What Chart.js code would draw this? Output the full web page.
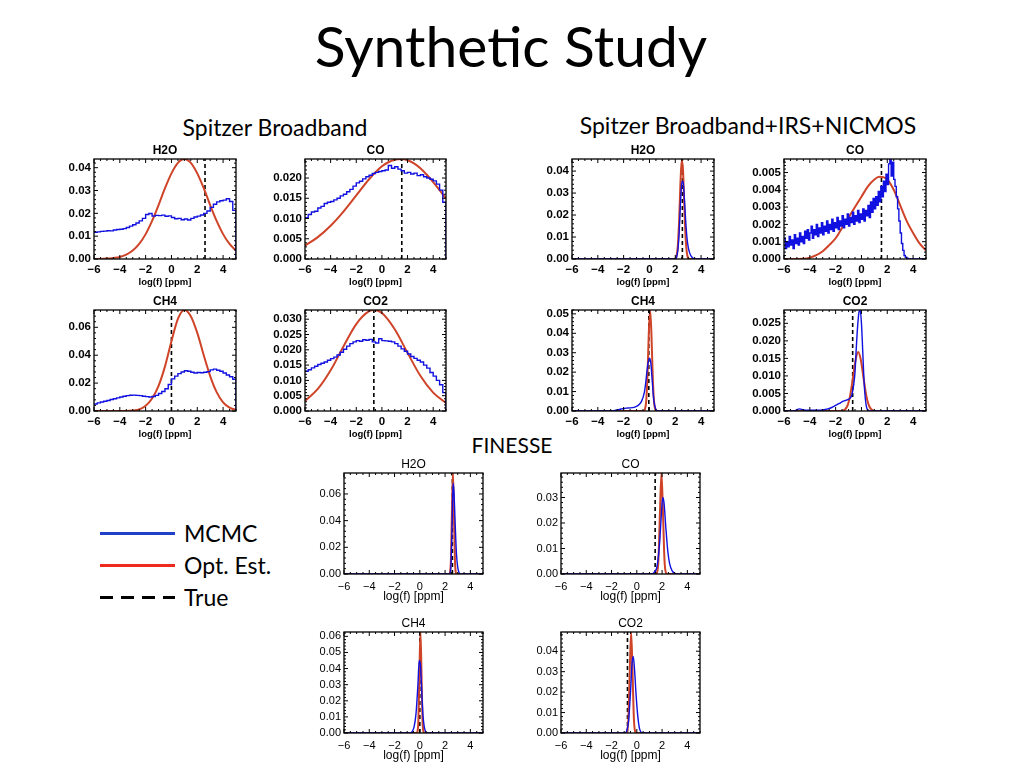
<!DOCTYPE html>
<html><head><meta charset="utf-8">
<script src="https://cdn.jsdelivr.net/npm/chart.js@4.4.0/dist/chart.umd.min.js"></script>
<style>
html,body{margin:0;padding:0;background:#fff;}
#page{position:relative;width:1024px;height:768px;overflow:hidden;font-family:Lato,'Open Sans',sans-serif;color:#000;}
.t{position:absolute;white-space:nowrap;line-height:1;}
.c{transform:translateX(-50%);}
canvas{position:absolute;}
.lg{position:absolute;left:100px;width:75px;height:3px;}
</style></head><body><div id="page">
<div class="t c" style="left:511px;top:17px;font-size:57px;">Synthetic Study</div>
<div class="t c" style="left:275px;top:116px;font-size:23px;">Spitzer Broadband</div>
<div class="t c" style="left:748px;top:114px;font-size:23px;">Spitzer Broadband+IRS+NICMOS</div>
<div class="t c" style="left:512px;top:434px;font-size:21px;">FINESSE</div>
<div class="lg" style="top:532px;background:#2140c8;"></div>
<div class="lg" style="top:564px;background:#ee2a1e;"></div>
<div class="lg" style="top:596px;background:repeating-linear-gradient(to right,#000 0 13px,transparent 13px 21px);"></div>
<div class="t" style="left:184px;top:522px;font-size:23px;">MCMC</div>
<div class="t" style="left:184px;top:554px;font-size:23px;">Opt. Est.</div>
<div class="t" style="left:184px;top:586px;font-size:23px;">True</div>
</div>
<script>
// ---------------- data ----------------
const species = ['H2O', 'CO', 'CH4', 'CO2'];
const xTicks = [-6, -4, -2, 0, 2, 4];
const xLabel = 'log(f) [ppm]';

// histogram bin edges (left edges, last = right end)
const edgesSB = [-6,-5.75,-5.5,-5.25,-5,-4.75,-4.5,-4.25,-4,-3.75,-3.5,-3.25,-3,-2.75,-2.5,-2.25,-2,-1.75,-1.5,-1.25,-1,-0.75,-0.5,-0.25,0,0.25,0.5,0.75,1,1.25,1.5,1.75,2,2.25,2.5,2.75,3,3.25,3.5,3.75,4,4.25,4.5,4.75,5];
const edgesFine = [-6,-5.9,-5.8,-5.7,-5.6,-5.5,-5.4,-5.3,-5.2,-5.1,-5,-4.9,-4.8,-4.7,-4.6,-4.5,-4.4,-4.3,-4.2,-4.1,-4,-3.9,-3.8,-3.7,-3.6,-3.5,-3.4,-3.3,-3.2,-3.1,-3,-2.9,-2.8,-2.7,-2.6,-2.5,-2.4,-2.3,-2.2,-2.1,-2,-1.9,-1.8,-1.7,-1.6,-1.5,-1.4,-1.3,-1.2,-1.1,-1,-0.9,-0.8,-0.7,-0.6,-0.5,-0.4,-0.3,-0.2,-0.1,0,0.1,0.2,0.3,0.4,0.5,0.6,0.7,0.8,0.9,1,1.1,1.2,1.3,1.4,1.5,1.6,1.7,1.8,1.9,2,2.1,2.2,2.3,2.4,2.5,2.6,2.7,2.8,2.9,3,3.1,3.2,3.3,3.4,3.5,3.6,3.7,3.8,3.9,4,4.1,4.2,4.3,4.4,4.5,4.6,4.7,4.8,4.9,5];

// Spitzer Broadband: MCMC histograms (on edgesSB)
const sbH2O_mcmc = [0.0117,0.0119,0.0121,0.0122,0.0124,0.0123,0.0127,0.0129,0.0130,0.0133,0.0138,0.0144,0.0150,0.0158,0.0167,0.0178,0.0195,0.0199,0.0188,0.0191,0.0190,0.0192,0.0187,0.0189,0.0182,0.0176,0.0178,0.0172,0.0175,0.0171,0.0178,0.0184,0.0188,0.0193,0.0200,0.0210,0.0226,0.0240,0.0250,0.0255,0.0258,0.0264,0.0252,0.0213,0];
const sbCO_mcmc  = [0.0102,0.0110,0.0116,0.0118,0.0126,0.0130,0.0137,0.0140,0.0142,0.0146,0.0150,0.0156,0.0160,0.0166,0.0172,0.0180,0.0188,0.0192,0.0198,0.0203,0.0207,0.0211,0.0214,0.0216,0.0218,0.0220,0.0231,0.0224,0.0228,0.0222,0.0218,0.0212,0.0214,0.0210,0.0212,0.0206,0.0208,0.0203,0.0200,0.0197,0.0193,0.0185,0.0170,0.0140,0];
const sbCH4_mcmc = [0.0050,0.0058,0.0065,0.0070,0.0075,0.0082,0.0088,0.0094,0.0100,0.0106,0.0110,0.0113,0.0114,0.0112,0.0110,0.0106,0.0103,0.0100,0.0104,0.0112,0.0125,0.0140,0.0160,0.0190,0.0230,0.0250,0.0268,0.0280,0.0288,0.0285,0.0278,0.0272,0.0276,0.0274,0.0278,0.0282,0.0295,0.0300,0.0292,0.0285,0.0272,0.0258,0.0245,0.0228,0];
const sbCO2_mcmc = [0.0130,0.0135,0.0141,0.0146,0.0152,0.0156,0.0160,0.0166,0.0171,0.0176,0.0183,0.0192,0.0202,0.0212,0.0220,0.0226,0.0230,0.0228,0.0233,0.0231,0.0234,0.0226,0.0222,0.0236,0.0230,0.0229,0.0228,0.0226,0.0220,0.0212,0.0203,0.0195,0.0186,0.0178,0.0172,0.0166,0.0160,0.0150,0.0140,0.0126,0.0114,0.0100,0.0086,0.0060,0];

// Spitzer Broadband: optimal estimation curves [x, y]
const sbH2O_opt = [[-6,0],[-5,0.0002],[-4,0.0009],[-3.5,0.0019],[-3,0.0037],[-2.5,0.0066],[-2,0.0109],[-1.5,0.0167],[-1,0.0236],[-0.5,0.0310],[0,0.0375],[0.5,0.0421],[1,0.0438],[1.5,0.0421],[2,0.0375],[2.5,0.0310],[3,0.0236],[3.5,0.0167],[4,0.0109],[4.5,0.0066],[5,0.0037]];
const sbCO_opt  = [[-6,0.0033],[-5,0.0054],[-4,0.0082],[-3,0.0117],[-2,0.0157],[-1,0.0197],[0,0.0229],[0.5,0.0239],[1,0.0245],[1.5,0.0247],[2,0.0244],[2.5,0.0236],[3,0.0224],[3.5,0.0208],[4,0.0190],[4.5,0.0170],[5,0.0149]];
const sbCH4_opt = [[-6,0],[-3.5,0],[-3,0.0003],[-2.5,0.0012],[-2,0.0038],[-1.5,0.0090],[-1,0.0180],[-0.5,0.0320],[0,0.0500],[0.5,0.0660],[1,0.0724],[1.5,0.0680],[2,0.0560],[2.5,0.0400],[3,0.0250],[3.5,0.0135],[4,0.0062],[4.5,0.0024],[5,0.0008]];
const sbCO2_opt = [[-6,0.0033],[-5,0.0072],[-4,0.0133],[-3,0.0211],[-2,0.0284],[-1,0.0326],[-0.6,0.0330],[0,0.0320],[1,0.0267],[2,0.0190],[3,0.0115],[4,0.0060],[5,0.0026]];

// Spitzer Broadband+IRS+NICMOS
const irsH2O_mcmc = [[-6,0],[2.0,0],[2.1,0.0008],[2.2,0.0040],[2.3,0.0120],[2.4,0.0250],[2.5,0.0345],[2.6,0.0355],[2.7,0.0280],[2.8,0.0180],[2.9,0.0100],[3.0,0.0055],[3.1,0.0030],[3.2,0.0016],[3.3,0.0008],[3.4,0.0003],[3.5,0.0001],[3.6,0],[5,0]];
const irsCO_mcmc = [0.0012,0.0006,0.0010,0.0007,0.0013,0.0008,0.0011,0.0006,0.0014,0.0009,0.0012,0.0008,0.0015,0.0010,0.0013,0.0009,0.0016,0.0012,0.0017,0.0011,0.0015,0.0019,0.0012,0.0017,0.0014,0.0020,0.0013,0.0018,0.0015,0.0021,0.0014,0.0019,0.0016,0.0022,0.0015,0.0020,0.0017,0.0023,0.0016,0.0021,0.0018,0.0024,0.0017,0.0022,0.0019,0.0025,0.0018,0.0023,0.0020,0.0026,0.0019,0.0024,0.0021,0.0027,0.0020,0.0025,0.0022,0.0028,0.0021,0.0026,0.0023,0.0029,0.0022,0.0028,0.0025,0.0031,0.0024,0.0033,0.0027,0.0035,0.0029,0.0036,0.0031,0.0039,0.0033,0.0042,0.0036,0.0045,0.0039,0.0049,0.0043,0.0055,0.0058,0.0048,0.0056,0.0046,0.0042,0.0036,0.0029,0.0022,0.0015,0.0009,0.0005,0.0002,0.0001,0.00004,0,0,0,0,0,0,0,0,0,0,0,0,0,0,0];
const irsCH4_mcmc = [[-6,0],[-3.0,0],[-2.6,0.0004],[-2.2,0.0010],[-2.0,0.0013],[-1.8,0.0015],[-1.5,0.0016],[-1.2,0.0019],[-1.0,0.0024],[-0.8,0.0033],[-0.6,0.0052],[-0.4,0.0095],[-0.3,0.0140],[-0.2,0.0200],[-0.1,0.0250],[0.0,0.0272],[0.1,0.0250],[0.2,0.0170],[0.3,0.0080],[0.4,0.0030],[0.5,0.0008],[0.6,0.0001],[0.7,0],[5,0]];
const irsCO2_mcmc = [[-6,0],[-5.2,0],[-5.0,0.0004],[-4.8,0.0006],[-4.5,0.0003],[-4.0,0.0002],[-3.5,0.0002],[-3.0,0.0003],[-2.6,0.0006],[-2.3,0.0010],[-2.0,0.0016],[-1.7,0.0022],[-1.4,0.0028],[-1.1,0.0032],[-0.9,0.0036],[-0.75,0.0045],[-0.6,0.0075],[-0.5,0.0110],[-0.4,0.0180],[-0.3,0.0240],[-0.2,0.0280],[-0.1,0.0288],[0.0,0.0250],[0.1,0.0170],[0.2,0.0085],[0.3,0.0035],[0.4,0.0010],[0.5,0.0002],[0.6,0],[5,0]];
const irsH2O_opt = [[-6,0],[1.95,0],[2.0,0.0002],[2.1,0.0014],[2.2,0.0062],[2.3,0.0177],[2.4,0.0344],[2.5,0.0451],[2.6,0.0402],[2.7,0.0242],[2.8,0.0098],[2.9,0.0027],[3.0,0.0005],[3.1,0],[5,0]];
const irsCO_opt  = [[-6,0],[-4.5,0.00002],[-4,0.00008],[-3.5,0.00022],[-3,0.00045],[-2.5,0.0008],[-2,0.0012],[-1.5,0.0018],[-1,0.0024],[-0.5,0.0030],[0,0.0036],[0.5,0.0042],[1,0.0046],[1.4,0.00475],[2,0.0046],[2.5,0.0040],[3,0.0031],[3.5,0.0022],[4,0.0015],[4.5,0.0009],[5,0.0005]];
const irsCH4_opt = [[-6,0],[-0.45,0],[-0.35,0.0009],[-0.25,0.0052],[-0.15,0.0187],[-0.05,0.0403],[0.05,0.0520],[0.15,0.0403],[0.25,0.0187],[0.35,0.0052],[0.45,0.0009],[0.55,0],[5,0]];
const irsCO2_opt = [[-6,0],[-1.65,0],[-1.45,0.0001],[-1.25,0.0005],[-1.05,0.0018],[-0.85,0.0049],[-0.65,0.0097],[-0.45,0.0146],[-0.25,0.0168],[-0.05,0.0146],[0.15,0.0097],[0.35,0.0049],[0.55,0.0018],[0.75,0.0005],[0.95,0.0001],[1.15,0],[5,0]];

// FINESSE
const finH2O_mcmc = [[-6,0],[2.35,0],[2.45,0.004],[2.55,0.035],[2.63,0.068],[2.7,0.062],[2.8,0.037],[2.9,0.015],[3.0,0.005],[3.1,0.0012],[3.2,0],[5,0]];
const finCO_mcmc  = [[-6,0],[1.2,0],[1.4,0.0008],[1.6,0.0030],[1.8,0.0120],[1.95,0.0240],[2.05,0.0300],[2.15,0.0280],[2.3,0.0180],[2.45,0.0090],[2.6,0.0040],[2.8,0.0012],[3.0,0.0002],[3.1,0],[5,0]];
const finCH4_mcmc = [[-6,0],[-0.75,0],[-0.6,0.001],[-0.45,0.004],[-0.3,0.012],[-0.15,0.030],[-0.05,0.045],[0.05,0.042],[0.15,0.026],[0.25,0.011],[0.35,0.004],[0.45,0.001],[0.55,0],[5,0]];
const finCO2_mcmc = [[-6,0],[-0.95,0],[-0.8,0.001],[-0.65,0.006],[-0.5,0.020],[-0.38,0.034],[-0.28,0.0375],[-0.18,0.031],[-0.05,0.018],[0.08,0.008],[0.2,0.0025],[0.32,0.0005],[0.42,0],[5,0]];
const finH2O_opt = [[-6,0],[2.3,0],[2.38,0.0008],[2.46,0.0102],[2.54,0.0460],[2.62,0.0757],[2.70,0.0460],[2.78,0.0102],[2.86,0.0008],[2.94,0],[5,0]];
const finCO_opt  = [[-6,0],[1.5,0],[1.59,0.0004],[1.71,0.0054],[1.83,0.0240],[1.95,0.0396],[2.07,0.0240],[2.19,0.0054],[2.31,0.0004],[2.4,0],[5,0]];
const finCH4_opt = [[-6,0],[-0.27,0],[-0.19,0.0007],[-0.11,0.0085],[-0.03,0.0380],[0.05,0.0627],[0.13,0.0380],[0.21,0.0085],[0.29,0.0007],[0.37,0],[5,0]];
const finCO2_opt = [[-6,0],[-0.89,0],[-0.78,0.0005],[-0.67,0.0067],[-0.56,0.0300],[-0.45,0.0494],[-0.34,0.0300],[-0.23,0.0067],[-0.12,0.0005],[-0.01,0],[5,0]];

// true values
const sbTrue  = [2.6, 1.55, 0, -0.63];
const irsTrue = [2.55, 1.55, -0.05, -0.68];
const finTrue = [2.58, 1.45, 0, -0.74];

// y axis ranges and ticks
const sbYMax  = [0.0438, 0.0247, 0.0724, 0.033];
const irsYMax = [0.0455, 0.00578, 0.052, 0.0288];
const finYMax = [0.0757, 0.0396, 0.0627, 0.0494];
const sbYTicks  = [[0,0.01,0.02,0.03,0.04],[0,0.005,0.01,0.015,0.02],[0,0.02,0.04,0.06],[0,0.005,0.01,0.015,0.02,0.025,0.03]];
const irsYTicks = [[0,0.01,0.02,0.03,0.04],[0,0.001,0.002,0.003,0.004,0.005],[0,0.01,0.02,0.03,0.04,0.05],[0,0.005,0.01,0.015,0.02,0.025]];
const finYTicks = [[0,0.02,0.04,0.06],[0,0.01,0.02,0.03],[0,0.01,0.02,0.03,0.04,0.05,0.06],[0,0.01,0.02,0.03,0.04]];
const sbDec = [2,3,2,3], irsDec = [2,3,2,3], finDec = [2,2,2,2];

// ---------------- layout (plot boxes: left, top, width, height) ----------------
const sbBoxes  = [[94,159,142,100],[305,159,141,100],[94,310,142,101],[305,310,141,101]];
const irsBoxes = [[572,159,142,100],[784,159,142,100],[572,310,142,101],[784,310,142,101]];
const finBoxes = [[344,473,139,101],[561,473,139,101],[344,632,139,101],[561,632,139,101]];

const BLUE = '#1010e0', RED = '#cf4428';
Chart.defaults.font.family = "'Liberation Sans', Arial, sans-serif";
Chart.defaults.color = '#000';

const boxPlugin = {
  id: 'idlbox',
  afterDatasetsDraw(chart) {
    const {ctx, chartArea: a, scales: {x, y}} = chart;
    ctx.save();
    ctx.strokeStyle = '#000';
    ctx.lineWidth = 1.3;
    ctx.strokeRect(a.left, a.top, a.right - a.left, a.bottom - a.top);
    ctx.lineWidth = 1;
    const xt = x.ticks.map(t => t.value);
    const yt = y.ticks.map(t => t.value);
    const xs = xt[1] - xt[0], ys = yt[1] - yt[0];
    for (let v = x.min; v <= x.max + 1e-9; v += xs / 4) {
      const major = xt.some(t => Math.abs(t - v) < 1e-6);
      const L = major ? 4 : 2, px = x.getPixelForValue(v);
      ctx.beginPath();
      ctx.moveTo(px, a.bottom); ctx.lineTo(px, a.bottom - L);
      ctx.moveTo(px, a.top); ctx.lineTo(px, a.top + L);
      ctx.stroke();
    }
    for (let v = 0; v <= y.max + 1e-12; v += ys / 5) {
      const major = yt.some(t => Math.abs(t - v) < ys * 1e-4);
      const L = major ? 4 : 2, py = y.getPixelForValue(v);
      ctx.beginPath();
      ctx.moveTo(a.left, py); ctx.lineTo(a.left + L, py);
      ctx.moveTo(a.right, py); ctx.lineTo(a.right - L, py);
      ctx.stroke();
    }
    ctx.restore();
  }
};

const page = document.getElementById('page');
const pairs = arr => arr.map(p => ({x: p[0], y: p[1]}));
const hist = (edges, vals) => edges.map((e, i) => ({x: e, y: vals[i]}));
const minus = v => v < 0 ? '\u2212' + Math.abs(v) : String(v);

function panel(p) {
  const padL = 44, padT = 18, padR = 44, padB = p.fin ? 30 : 29;
  const [bl, bt, bw, bh] = p.box;
  const c = document.createElement('canvas');
  c.width = bw + padL + padR; c.height = bh + padT + padB;
  c.style.left = (bl - padL) + 'px'; c.style.top = (bt - padT) + 'px';
  c.style.width = c.width + 'px'; c.style.height = c.height + 'px';
  page.appendChild(c);
  const tickFont = p.fin ? {size: 11, weight: 'normal', lineHeight: '13px'} : {size: 11.5, weight: 'bold', lineHeight: '13px'};
  const titleFont = p.fin ? {size: 12, weight: 'normal', lineHeight: '13px'} : {size: 12, weight: 'bold', lineHeight: '13px'};
  const axFont = p.fin ? {size: 12, weight: 'normal', lineHeight: '14px'} : {size: 9.5, weight: 'bold', lineHeight: '11px'};
  const blue = p.edges ? {data: hist(p.edges, p.mcmc), stepped: 'before'} : {data: pairs(p.mcmc), cubicInterpolationMode: 'monotone'};
  new Chart(c, {
    type: 'line',
    data: {datasets: [
      Object.assign({borderColor: BLUE, borderWidth: 1.4, pointRadius: 0, fill: false}, blue),
      {data: pairs(p.opt), borderColor: RED, borderWidth: 2, pointRadius: 0, fill: false, cubicInterpolationMode: 'monotone'},
      {data: [{x: p.truth, y: 0}, {x: p.truth, y: p.ymax}], borderColor: '#000', borderWidth: 1.6, borderDash: [4, 3], pointRadius: 0, fill: false}
    ]},
    options: {
      responsive: false, animation: false, events: [],
      layout: {padding: 0},
      plugins: {
        legend: {display: false}, tooltip: {enabled: false},
        title: {display: true, text: p.name, font: titleFont, padding: {top: 3, bottom: 2}}
      },
      scales: {
        x: {
          type: 'linear', min: -6, max: 5,
          grid: {display: false, drawTicks: false}, border: {display: false},
          ticks: {font: tickFont, padding: p.fin ? 6 : 4, maxRotation: 0, autoSkip: false, callback: v => minus(v)},
          afterBuildTicks: s => { s.ticks = xTicks.map(v => ({value: v})); },
          afterFit: s => { s.height = padB; },
          title: {display: true, text: xLabel, font: axFont, padding: 0}
        },
        y: {
          type: 'linear', min: 0, max: p.ymax,
          grid: {display: false, drawTicks: false}, border: {display: false},
          ticks: {font: tickFont, padding: 3, autoSkip: false, callback: v => Number(v).toFixed(p.dec)},
          afterBuildTicks: s => { s.ticks = p.yticks.map(v => ({value: v})); },
          afterFit: s => { s.width = padL; }
        },
        yRight: {
          type: 'linear', position: 'right', min: 0, max: 1, display: true,
          grid: {display: false, drawTicks: false}, border: {display: false},
          ticks: {display: false},
          afterFit: s => { s.width = padR; }
        }
      }
    },
    plugins: [boxPlugin]
  });
}

const sbM = [sbH2O_mcmc, sbCO_mcmc, sbCH4_mcmc, sbCO2_mcmc];
const sbO = [sbH2O_opt, sbCO_opt, sbCH4_opt, sbCO2_opt];
const irsM = [irsH2O_mcmc, irsCO_mcmc, irsCH4_mcmc, irsCO2_mcmc];
const irsO = [irsH2O_opt, irsCO_opt, irsCH4_opt, irsCO2_opt];
const finM = [finH2O_mcmc, finCO_mcmc, finCH4_mcmc, finCO2_mcmc];
const finO = [finH2O_opt, finCO_opt, finCH4_opt, finCO2_opt];

species.forEach((name, i) => {
  panel({name, box: sbBoxes[i], edges: edgesSB, mcmc: sbM[i], opt: sbO[i], truth: sbTrue[i], ymax: sbYMax[i], yticks: sbYTicks[i], dec: sbDec[i]});
  panel({name, box: irsBoxes[i], edges: i === 1 ? edgesFine : null, mcmc: irsM[i], opt: irsO[i], truth: irsTrue[i], ymax: irsYMax[i], yticks: irsYTicks[i], dec: irsDec[i]});
  panel({name, box: finBoxes[i], fin: true, mcmc: finM[i], opt: finO[i], truth: finTrue[i], ymax: finYMax[i], yticks: finYTicks[i], dec: finDec[i]});
});
</script>
</body></html>
